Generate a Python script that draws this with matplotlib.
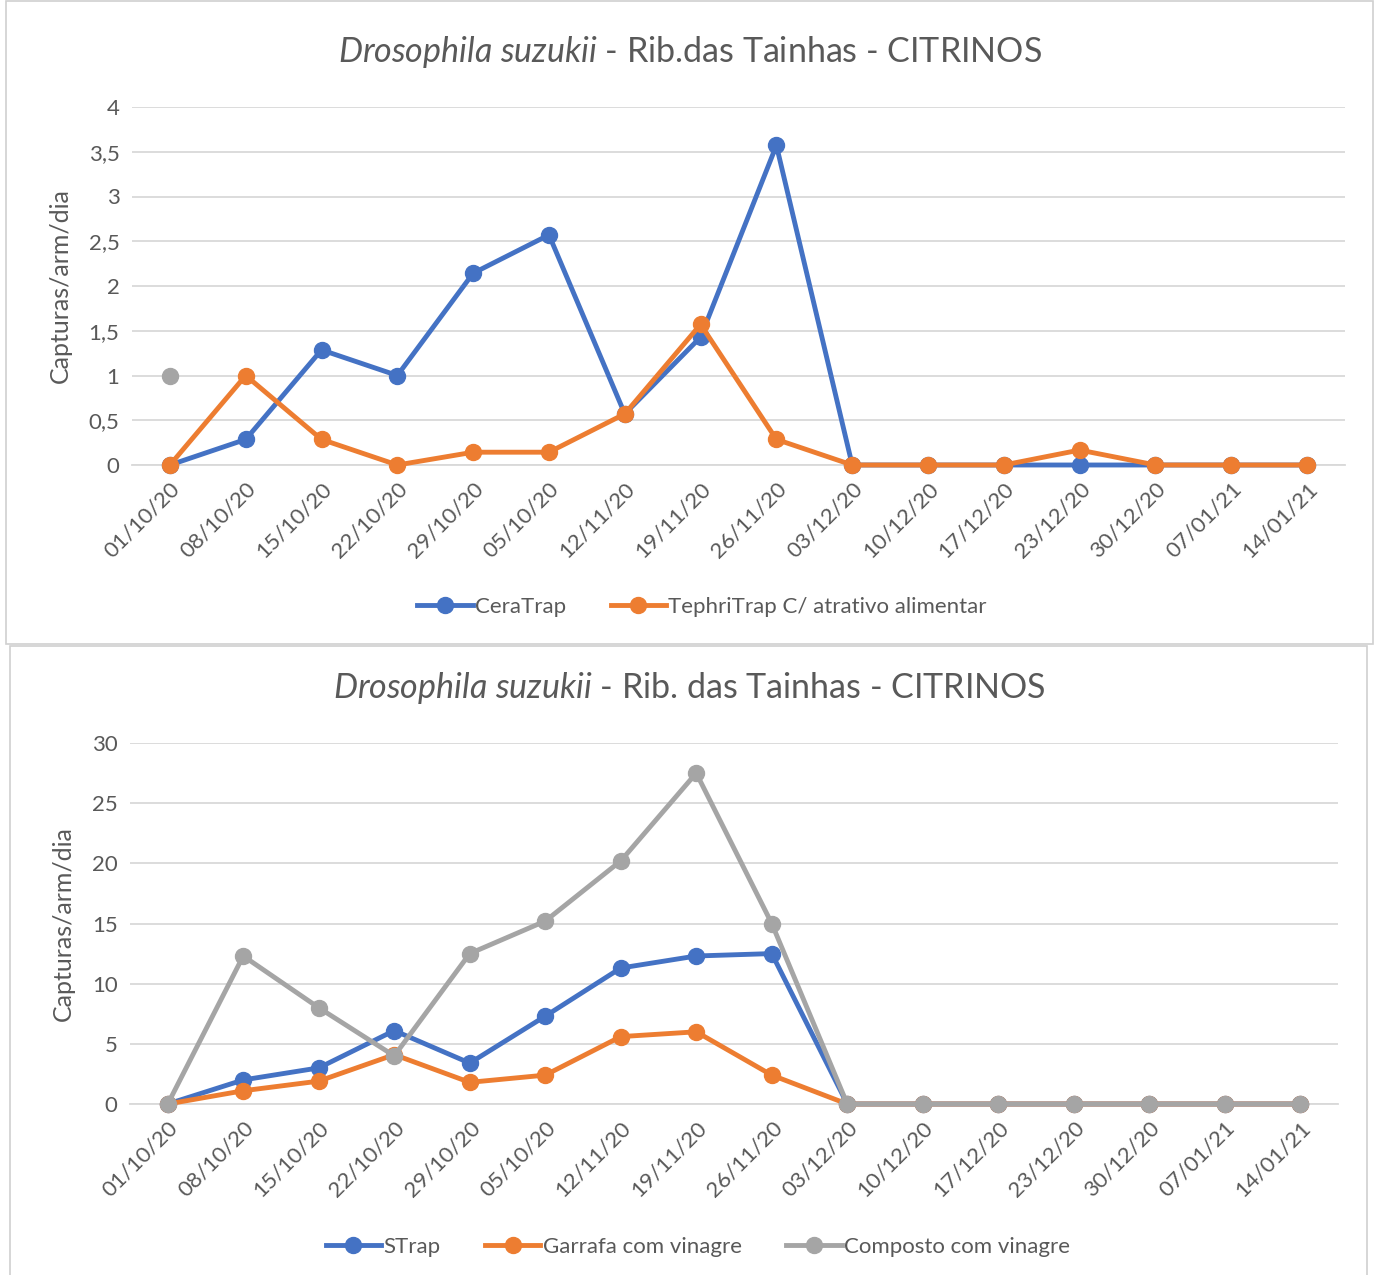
import numpy as np
import matplotlib
matplotlib.use("Agg")
import matplotlib.pyplot as plt
from matplotlib.patches import Rectangle
from matplotlib.ticker import FuncFormatter

# ---- data ----
dates = ["01/10/20", "08/10/20", "15/10/20", "22/10/20", "29/10/20", "05/10/20",
         "12/11/20", "19/11/20", "26/11/20", "03/12/20", "10/12/20", "17/12/20",
         "23/12/20", "30/12/20", "07/01/21", "14/01/21"]

ceratrap = [0, 0.286, 1.286, 1.0, 2.143, 2.571, 0.571, 1.429, 3.571, 0, 0, 0, 0, 0, 0, 0]
tephritrap = [0, 1.0, 0.286, 0, 0.143, 0.143, 0.571, 1.571, 0.286, 0, 0, 0, 0.167, 0, 0, 0]
extra_point = [1.0]  # lone grey point at 01/10/20 (no legend entry)

strap = [0, 2.0, 3.0, 6.1, 3.4, 7.3, 11.3, 12.3, 12.5, 0, 0, 0, 0, 0, 0, 0]
garrafa = [0, 1.1, 1.9, 4.1, 1.8, 2.4, 5.6, 6.0, 2.4, 0, 0, 0, 0, 0, 0, 0]
composto = [0, 12.3, 8.0, 4.0, 12.5, 15.2, 20.2, 27.5, 15.0, 0, 0, 0, 0, 0, 0, 0]

BLUE = "#4472C4"
ORANGE = "#ED7D31"
GREY = "#A5A5A5"
TXT = "#595959"
GRID = "#D9D9D9"

plt.rcParams['font.family'] = ['Lato', 'DejaVu Sans']
plt.rcParams['mathtext.fontset'] = 'custom'
plt.rcParams['mathtext.rm'] = 'Lato'
plt.rcParams['mathtext.it'] = 'Lato:italic'

W, H = 1378, 1275
fig = plt.figure(figsize=(W / 100, H / 100), dpi=100)

# panel borders (pixel coords -> figure fraction)
def add_box(x0, y0, x1, y1):
    fig.patches.append(Rectangle((x0 / W, 1 - y1 / H), (x1 - x0) / W, (y1 - y0) / H,
                                 transform=fig.transFigure, fill=False,
                                 edgecolor="#D0D0D0", lw=1.2))

add_box(6, 1, 1373, 644)
add_box(10, 646, 1367, 1280)


def comma_fmt(v, pos):
    return ("%g" % v).replace(".", ",")


def style_axes(ax, ymax, ystep):
    x = np.arange(len(dates))
    ax.set_xlim(-0.5, len(dates) - 0.5)
    ax.set_ylim(0, ymax)
    ax.set_yticks(np.arange(0, ymax + ystep / 2, ystep))
    ax.yaxis.set_major_formatter(FuncFormatter(comma_fmt))
    ax.set_xticks(x)
    ax.set_xticklabels(dates, rotation=45, ha="right", rotation_mode="anchor")
    ax.grid(axis="y", color=GRID, lw=1.3)
    ax.set_axisbelow(True)
    for s in ax.spines.values():
        s.set_visible(False)
    ax.spines["bottom"].set_visible(True)
    ax.spines["bottom"].set_color(GRID)
    ax.spines["bottom"].set_linewidth(1.3)
    ax.tick_params(axis="both", length=0, labelsize=16, labelcolor=TXT, pad=9)
    ax.tick_params(axis="x", pad=10)
    ax.set_ylabel("Capturas/arm/dia", fontsize=18, color=TXT, labelpad=12)


def line(ax, y, color, label):
    x = np.arange(len(y))
    ax.plot(x, y, color=color, lw=3.5, marker="o", ms=11.5, label=label,
            clip_on=False, zorder=3)


def legend(ax, ncol):
    ax.legend(loc="upper center", bbox_to_anchor=(0.47, -0.313), ncol=ncol,
              frameon=False, fontsize=16, labelcolor=TXT, handlelength=2.5,
              columnspacing=2.0, handletextpad=0.1)


# ---- top chart ----
ax1 = fig.add_axes([132 / W, 1 - 465 / H, (1345 - 132) / W, (465 - 107) / H])
style_axes(ax1, 4, 0.5)
line(ax1, ceratrap, BLUE, "CeraTrap")
line(ax1, tephritrap, ORANGE, "TephriTrap C/ atrativo alimentar")
ax1.plot([0], extra_point, color=GREY, marker="o", ms=11.5, ls="none", clip_on=False, zorder=3)
fig.text(690 / W, 1 - 52 / H, r"$\it{Drosophila\ suzukii}$ - Rib.das Tainhas - CITRINOS",
         fontsize=24.5, color=TXT, ha="center", va="center")
legend(ax1, 2)

# ---- bottom chart ----
ax2 = fig.add_axes([130 / W, 1 - 1104 / H, (1338 - 130) / W, (1104 - 743) / H])
style_axes(ax2, 30, 5)
line(ax2, strap, BLUE, "STrap")
line(ax2, garrafa, ORANGE, "Garrafa com vinagre")
line(ax2, composto, GREY, "Composto com vinagre")
fig.text(689 / W, 1 - 688 / H, r"$\it{Drosophila\ suzukii}$ - Rib. das Tainhas - CITRINOS",
         fontsize=24.5, color=TXT, ha="center", va="center")
legend(ax2, 3)

fig.savefig("out.png", dpi=100, facecolor="white")
